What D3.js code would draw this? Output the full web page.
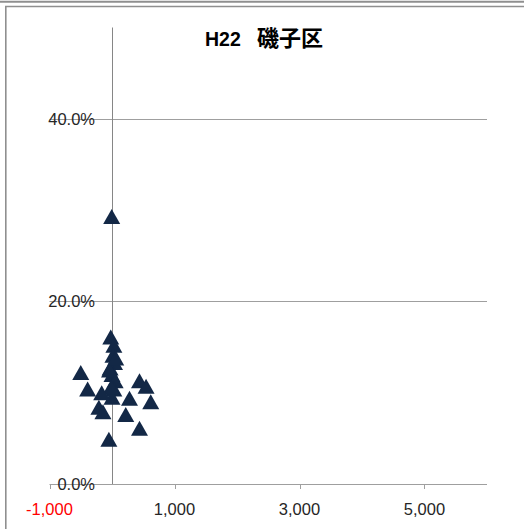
<!DOCTYPE html>
<html>
<head>
<meta charset="utf-8">
<script src="https://cdn.jsdelivr.net/npm/d3@7/dist/d3.min.js"></script>
<style>
  html, body { margin: 0; padding: 0; background: #fff; }
  svg { display: block; }
</style>
</head>
<body>
<script>
// Scatter: population change (x) vs. rate (y), 磯子区, H22
const chartTitle = "H22";
const chartTitleWard = "磯子区";
const xTicks = [-1000, 1000, 3000, 5000];
const xTickLabels = ["-1,000", "1,000", "3,000", "5,000"];
const yTicks = [0, 0.2, 0.4];
const yTickLabels = ["0.0%", "20.0%", "40.0%"];
const xValues = [-5, -20, 30, 15, 40, -30, 0, 50, 30, 0, -40, 60, -15,
                 -500, -390, -165, -210, -145, -50,
                 440, 545, 620, 280, 220, 440];
const yValues = [0.293, 0.161, 0.152, 0.141, 0.133, 0.127, 0.120, 0.113, 0.104, 0.095, 0.125, 0.138, 0.106,
                 0.122, 0.104, 0.100, 0.084, 0.079, 0.049,
                 0.113, 0.107, 0.090, 0.094, 0.076, 0.061];

const W = 524, H = 529;
const svg = d3.select("body").append("svg").attr("width", W).attr("height", H);

// outer frame lines
svg.append("line").attr("x1", 0).attr("x2", W).attr("y1", 1.8).attr("y2", 1.8)
  .attr("stroke", "#8f8f8f").attr("stroke-width", 2);
svg.append("path").attr("d", `M5.8,${H} V6.5 H${W}`)
  .attr("fill", "none").attr("stroke", "#8f8f8f").attr("stroke-width", 1.6);

const x = d3.scaleLinear().domain([-1000, 6000]).range([49.5, 487]);
const y = d3.scaleLinear().domain([0, 0.5]).range([484, 27.5]);

// horizontal gridlines (incl. baseline)
svg.append("g").selectAll("line").data(yTicks).join("line")
  .attr("x1", x(-1000)).attr("x2", x(6000))
  .attr("y1", d => Math.round(y(d)) + 0.5).attr("y2", d => Math.round(y(d)) + 0.5)
  .attr("stroke", "#9f9f9f").attr("stroke-width", 1);

// x ticks below baseline
svg.append("g").selectAll("line").data(xTicks).join("line")
  .attr("x1", d => Math.round(x(d)) + 0.5).attr("x2", d => Math.round(x(d)) + 0.5)
  .attr("y1", Math.round(y(0)) + 0.5).attr("y2", Math.round(y(0)) + 5)
  .attr("stroke", "#9f9f9f").attr("stroke-width", 1);

// vertical axis at x = 0
svg.append("line")
  .attr("x1", Math.round(x(0)) + 0.5).attr("x2", Math.round(x(0)) + 0.5)
  .attr("y1", y(0.5)).attr("y2", y(0))
  .attr("stroke", "#868686").attr("stroke-width", 1);

// y tick labels
svg.append("g").selectAll("text").data(yTicks).join("text")
  .attr("x", 95).attr("y", d => y(d)).attr("dy", "0.36em")
  .attr("text-anchor", "end")
  .attr("font-family", "Liberation Sans, Arial, sans-serif").attr("font-size", 16.5)
  .attr("fill", "#262626")
  .text((d, i) => yTickLabels[i]);

// x tick labels
svg.append("g").selectAll("text").data(xTicks).join("text")
  .attr("x", d => x(d)).attr("y", 515)
  .attr("text-anchor", "middle")
  .attr("font-family", "Liberation Sans, Arial, sans-serif").attr("font-size", 16.5)
  .attr("fill", d => d < 0 ? "#ff0000" : "#262626")
  .text((d, i) => xTickLabels[i]);

// title
const t = svg.append("text").attr("y", 46)
  .attr("font-family", "Liberation Sans, Arial, sans-serif").attr("font-weight", "bold")
  .attr("fill", "#000");
t.append("tspan").attr("x", 205).attr("font-size", 19.5).text(chartTitle);
t.append("tspan").attr("x", 257).attr("font-size", 22)
  .attr("font-family", "Noto Sans CJK JP, sans-serif").text(chartTitleWard);

// triangle markers
const tri = "M0,-7.5 L8.5,7.5 L-8.5,7.5 Z";
svg.append("g").selectAll("path").data(xValues.map((v, i) => [v, yValues[i]])).join("path")
  .attr("d", tri)
  .attr("transform", d => `translate(${x(d[0])},${y(d[1])})`)
  .attr("fill", "#132846");
</script>
</body>
</html>
